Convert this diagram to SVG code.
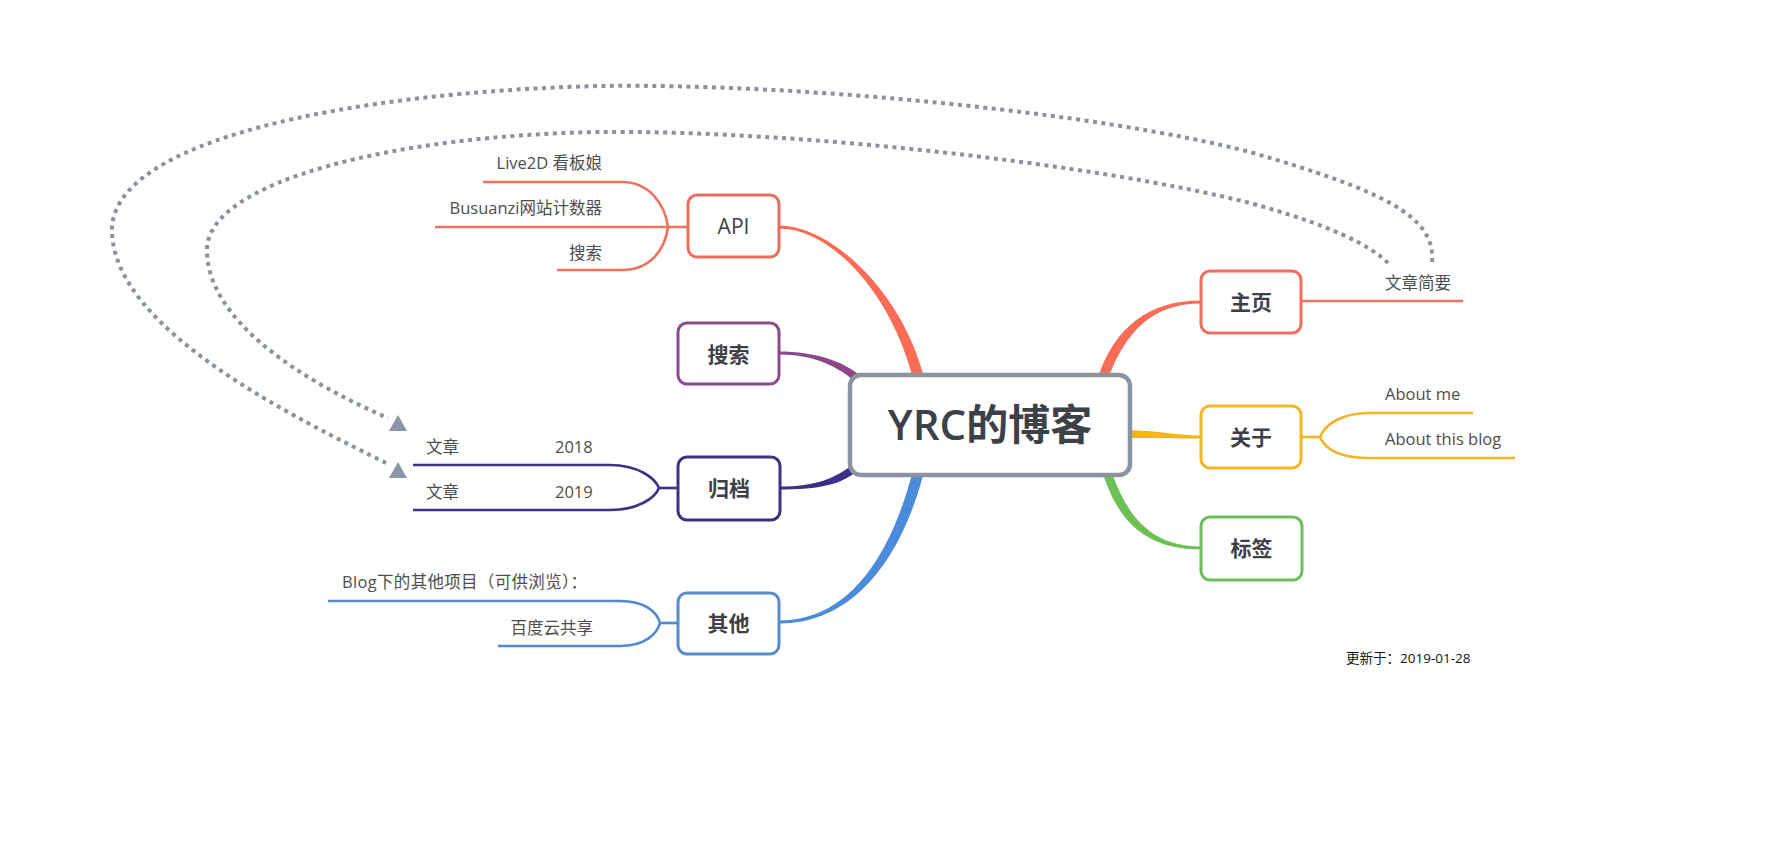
<svg xmlns="http://www.w3.org/2000/svg" width="1770" height="858" viewBox="0 0 1770 858">
<defs>
<style>
.t{font-family:"Open Sans","Noto Sans CJK SC",sans-serif;font-size:16.5px;fill:#4d4d4d}
.lbl{font-family:"Open Sans","Noto Sans CJK SC",sans-serif;font-size:21px;fill:#3d4147;text-anchor:middle;font-weight:bold}
.box{fill:#fff;stroke-width:3}
.ln{fill:none;stroke-width:2.6}
.dot{fill:none;stroke:#8a929d;stroke-width:4;stroke-dasharray:4 4.5}
</style>
</defs>
<rect width="1770" height="858" fill="#fff"/>
<g id="connectors">
<path d="M779,225.5 C830,225.5 900,289 923.3,374.6 L912.7,377.4 C890,291 830,228.5 779,228.5 Z" fill="#fb6c56"/>
<path d="M779,351.5 C815,351.5 842,361 859.6,375 L854.4,381 C838,367 815,354.5 779,354.5 Z" fill="#8e4688"/>
<path d="M780,486.5 C815,486.5 835,478 849.7,466.7 L854.3,473.3 C837,486 815,489.5 780,489.5 Z" fill="#3c2f88"/>
<path d="M912.7,471.6 C890,558 848,620.5 779,620.5 L779,623.5 C852,623.5 900,562 923.3,474.4 Z" fill="#4a8bdb"/>
<path d="M1098.3,376.3 C1115,328 1148,300.5 1201,300.5 L1201,303.5 C1152,303.5 1125,332 1107.7,379.7 Z" fill="#fb6c56"/>
<path d="M1125,430 C1160,430.5 1178,435.5 1201,435.5 L1201,438.5 C1176,438.5 1160,438 1125,438 Z" fill="#f7b31b"/>
<path d="M1103.8,476.5 C1118,518 1143,549.5 1201,549.5 L1201,546.5 C1148,546.5 1126,512 1112.2,473.5 Z" fill="#6cc054"/>
<path class="ln" stroke="#ef7160" d="M483,182 H622 C650,182 665,205 668,227"/>
<path class="ln" stroke="#ef7160" d="M557,270 H622 C650,270 665,250 668,227"/>
<path class="ln" stroke="#ef7160" d="M435,227 H688"/>
<path class="ln" stroke="#3e3288" d="M413,465 H610 C638,465 655,478 659,488"/>
<path class="ln" stroke="#3e3288" d="M413,510 H610 C638,510 655,498 659,488"/>
<path class="ln" stroke="#3e3288" d="M659,488 H678"/>
<path class="ln" stroke="#5089d0" d="M328,601 H620 C645,601 657,612 660,623"/>
<path class="ln" stroke="#5089d0" d="M498,646 H620 C645,646 657,634 660,623"/>
<path class="ln" stroke="#5089d0" d="M660,623 H678"/>
<path class="ln" stroke="#ef7160" d="M1301,301 H1463"/>
<path class="ln" stroke="#f4b42a" d="M1473,413 H1370 C1340,413 1325,425 1320,437"/>
<path class="ln" stroke="#f4b42a" d="M1515,458 H1370 C1340,458 1325,449 1320,437"/>
<path class="ln" stroke="#f4b42a" d="M1301,437 H1320"/>
<path class="dot" d="M1432,262 C1436,215 1380,190 1250,152 C1100,113 800,83 600,86 C350,92 112,140 112,230 C112,330 300,420 388,464"/>
<path class="dot" d="M1388,263 C1370,245 1330,225 1250,203 C1100,165 800,130 600,132 C400,135 207,180 207,250 C207,320 300,380 388,418"/>
<polygon points="398,415 389,431 407,431" fill="#8a96a8"/>
<polygon points="398,462 389,478 407,478" fill="#8a96a8"/>
</g>
<g id="center">
<rect x="850" y="375" width="280" height="100" rx="11" fill="#fff" stroke="#8a939f" stroke-width="4.5"/>
<text x="990" y="440" text-anchor="middle" style="font-family:'Open Sans','Noto Sans CJK SC',sans-serif;font-size:42px;fill:#3d4147"><tspan style="font-weight:600">YRC</tspan><tspan style="font-weight:bold">的博客</tspan></text>
</g>
<g id="node-api">
<rect class="box" x="688" y="195" width="91" height="62" rx="9" stroke="#ec6e5f"/>
<text class="lbl" x="733.5" y="234" style="font-weight:normal">API</text>
</g>
<g id="node-search">
<rect class="box" x="678" y="323" width="101" height="61" rx="9" stroke="#8b4a8c"/>
<text class="lbl" x="728.5" y="362">搜索</text>
</g>
<g id="node-archive">
<rect class="box" x="678" y="457" width="102" height="63" rx="9" stroke="#3e3186"/>
<text class="lbl" x="729" y="496">归档</text>
</g>
<g id="node-other">
<rect class="box" x="678" y="593" width="101" height="61" rx="9" stroke="#5b8bcb"/>
<text class="lbl" x="728.5" y="631">其他</text>
</g>
<g id="node-home">
<rect class="box" x="1201" y="271" width="100" height="62" rx="9" stroke="#ee6e5f"/>
<text class="lbl" x="1251" y="310">主页</text>
</g>
<g id="node-about">
<rect class="box" x="1201" y="406" width="100" height="62" rx="9" stroke="#f3b628"/>
<text class="lbl" x="1251" y="445">关于</text>
</g>
<g id="node-tags">
<rect class="box" x="1201" y="517" width="101" height="63" rx="9" stroke="#6ebd5c"/>
<text class="lbl" x="1251.5" y="556">标签</text>
</g>
<g id="api-children">
<text class="t" x="602" y="169" text-anchor="end">Live2D 看板娘</text>
<text class="t" x="602" y="214" text-anchor="end">Busuanzi网站计数器</text>
<text class="t" x="602" y="259" text-anchor="end">搜索</text>
</g>
<g id="archive-children">
<text class="t" x="426" y="453">文章</text>
<text class="t" x="555" y="453">2018</text>
<text class="t" x="426" y="498">文章</text>
<text class="t" x="555" y="498">2019</text>
</g>
<g id="other-children">
<text class="t" x="342" y="588" textLength="245" lengthAdjust="spacing">Blog下的其他项目（可供浏览）：</text>
<text class="t" x="593" y="634" text-anchor="end">百度云共享</text>
</g>
<g id="home-children">
<text class="t" x="1385" y="289">文章简要</text>
</g>
<g id="about-children">
<text class="t" x="1385" y="400">About me</text>
<text class="t" x="1385" y="445">About this blog</text>
</g>
<g id="note">
<text x="1346" y="663" style="font-family:'Open Sans','Noto Sans CJK SC',sans-serif;font-size:13.5px;fill:#111">更新于：2019-01-28</text>
</g>
</svg>
